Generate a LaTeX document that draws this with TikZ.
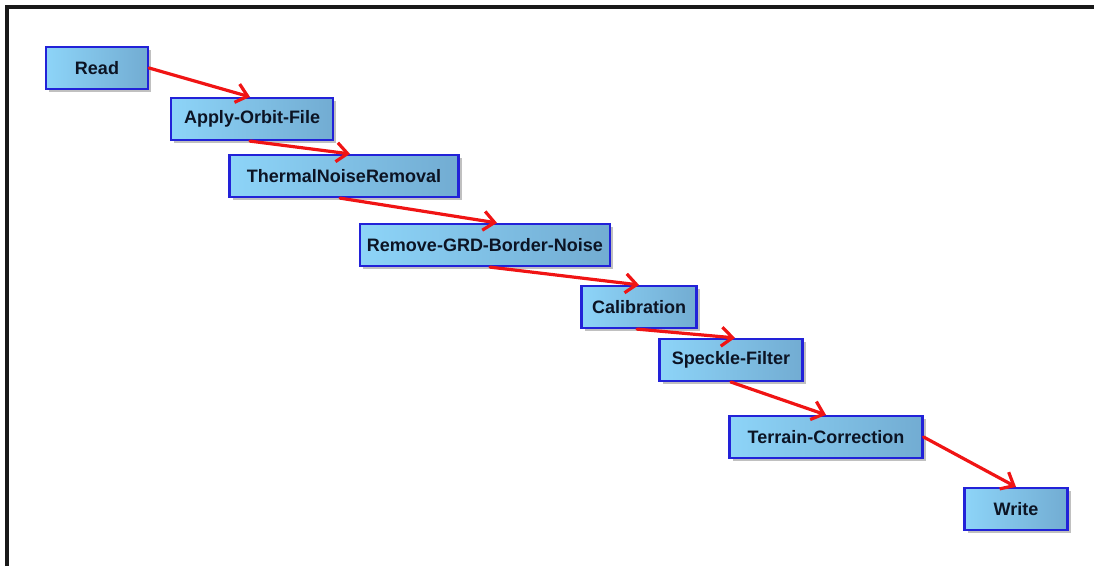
\documentclass[tikz,border=0pt]{standalone}
\usepackage{fontspec}
\setmainfont{Liberation Sans}
\usetikzlibrary{arrows.meta, positioning, shadows}

\definecolor{boxleft}{HTML}{8DD4F8}
\definecolor{boxright}{HTML}{72ACD2}
\definecolor{boxline}{HTML}{2222D8}
\definecolor{flowred}{HTML}{F01414}
\definecolor{boxtext}{HTML}{0C1424}

\tikzset{
  opbox/.style={draw=boxline, line width=2.2pt, left color=boxleft, right color=boxright,
                minimum height=42, inner sep=0pt, text=boxtext,
                font=\fontsize{18}{20}\selectfont\bfseries,
                drop shadow={shadow xshift=3pt, shadow yshift=-3pt, fill=black!45, opacity=.55}},
  flow/.style={draw=flowred, line width=3.2pt, line cap=round,
               -{Straight Barb[length=11pt, width=19pt, line width=3.2pt]}}
}

\begin{document}
\begin{tikzpicture}[x=1pt, y=-1pt] % 以像素为单位,y向下
\useasboundingbox (0,0) rectangle (1094,566);
% 外框:只有上边和左边
\draw[black!90, line width=3.2pt] (7,566) coordinate (fbl) -- (7,7) coordinate (ftl) -- (1094,7) coordinate (ftr);

% 各处理步骤
\node[opbox, minimum width=102] (read)     at (97,68)   {Read};
\node[opbox, minimum width=162] (orbit)    at (252,119) {Apply-Orbit-File};
\node[opbox, minimum width=229] (thermal)  at (344,176) {ThermalNoiseRemoval};
\node[opbox, minimum width=250] (border)   at (485,245) {Remove-GRD-Border-Noise};
\node[opbox, minimum width=115] (calib)    at (639,307) {Calibration};
\node[opbox, minimum width=143] (speckle)  at (731,360) {Speckle-Filter};
\node[opbox, minimum width=193] (terrain)  at (826,437) {Terrain-Correction};
\node[opbox, minimum width=103] (write)    at (1016,509) {Write};

% 红色箭头连接
\draw[flow] (read.east) -- ([xshift=-2]orbit.north);
\draw[flow] ([xshift=-2]orbit.south) -- ([xshift=6]thermal.north);
\draw[flow] ([xshift=-4]thermal.south) -- ([xshift=12]border.north);
\draw[flow] ([xshift=5]border.south) -- (calib.north);
\draw[flow] ([xshift=-2]calib.south) -- ([xshift=4]speckle.north);
\draw[flow] (speckle.south) -- (terrain.north);
\draw[flow] (terrain.east) -- (write.north);
\end{tikzpicture}
\end{document}
